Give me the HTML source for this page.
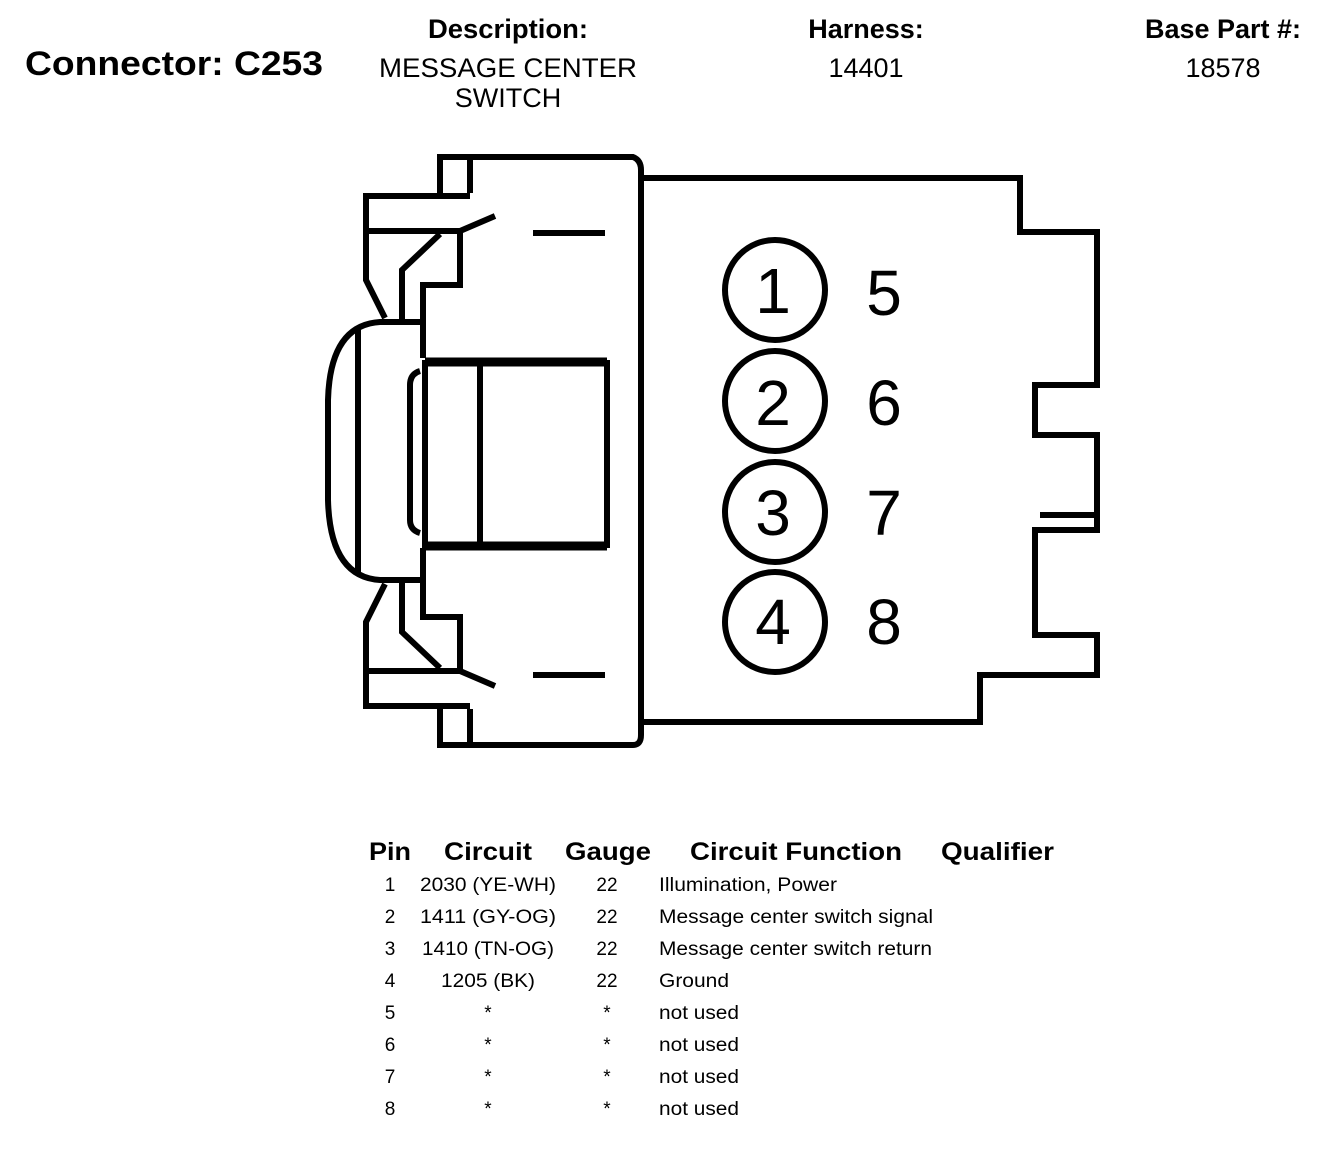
<!DOCTYPE html>
<html><head><meta charset="utf-8"><style>
html,body{margin:0;padding:0;background:#fff;}
svg{display:block;}
text{font-family:"Liberation Sans",sans-serif;fill:#000;}
</style></head><body>
<svg width="1344" height="1154" viewBox="0 0 1344 1154" xmlns="http://www.w3.org/2000/svg">
<rect width="1344" height="1154" fill="#fff"/>
<text x="25" y="75" font-size="34" font-weight="bold" textLength="298" lengthAdjust="spacingAndGlyphs">Connector: C253</text>
<text x="508" y="38" font-size="27" font-weight="bold" text-anchor="middle" textLength="160" lengthAdjust="spacingAndGlyphs">Description:</text>
<text x="508" y="77" font-size="27" text-anchor="middle" textLength="258" lengthAdjust="spacingAndGlyphs">MESSAGE CENTER</text>
<text x="508" y="107" font-size="27" text-anchor="middle">SWITCH</text>
<text x="866" y="38" font-size="27" font-weight="bold" text-anchor="middle">Harness:</text>
<text x="866" y="77" font-size="27" text-anchor="middle">14401</text>
<text x="1223" y="38" font-size="27" font-weight="bold" text-anchor="middle">Base Part #:</text>
<text x="1223" y="77" font-size="27" text-anchor="middle">18578</text>

<g fill="none" stroke="#000" stroke-width="6" stroke-linejoin="miter">
<path d="M437 157 L633 157 Q641 160 641 170 L641 735 Q641 745 633 745 L437 745"/>
<path d="M440 157 L440 193 M470 157 L470 193"/>
<path d="M440 745 L440 709 M470 745 L470 709"/>
<path d="M470 196 L366 196 L366 280 L385 318"/>
<path d="M366 231 L460 231 L495 216"/>
<path d="M460 231 L460 285 L423 285 L423 358"/>
<path d="M440 234 L402 270 L402 322"/>
<path d="M533 233 L605 233"/>
<path d="M470 706 L366 706 L366 622 L385 584"/>
<path d="M366 671 L460 671 L495 686"/>
<path d="M460 671 L460 617 L423 617 L423 548"/>
<path d="M440 668 L402 632 L402 580"/>
<path d="M533 675 L605 675"/>
<path d="M420 322 L380 322 Q330 325 328 400 L328 500 Q330 577 380 580 L420 580"/>
<path d="M358 330 L358 572"/>
<path d="M420 371 Q410 374 410 385 L410 520 Q410 530 420 533"/>
<rect x="425" y="363" width="182" height="182"/>
<path d="M480 363 L480 545"/>
<path d="M425 362 L607 362 M425 546 L607 546" stroke-width="9"/>
<path d="M641 178 L1020 178 L1020 232 L1097 232 L1097 385 L1035 385 L1035 435 L1097 435 L1097 530 L1035 530 L1035 635 L1097 635 L1097 675 L980 675 L980 722 L641 722"/>
<path d="M1040 515 L1097 515"/>
<circle cx="775" cy="290" r="50"/>
<circle cx="775" cy="401" r="50"/>
<circle cx="775" cy="512" r="50"/>
<circle cx="775" cy="622" r="50"/>
</g>
<g font-size="64" text-anchor="middle">
<text x="773" y="313">1</text>
<text x="773" y="425">2</text>
<text x="773" y="535">3</text>
<text x="773" y="644">4</text>
<text x="884" y="315">5</text>
<text x="884" y="425">6</text>
<text x="884" y="535">7</text>
<text x="884" y="644">8</text>
</g>

<g font-size="25" font-weight="bold">
<text x="369" y="860" textLength="42" lengthAdjust="spacingAndGlyphs">Pin</text>
<text x="444" y="860" textLength="88" lengthAdjust="spacingAndGlyphs">Circuit</text>
<text x="565" y="860" textLength="86" lengthAdjust="spacingAndGlyphs">Gauge</text>
<text x="690" y="860" textLength="212" lengthAdjust="spacingAndGlyphs">Circuit Function</text>
<text x="941" y="860" textLength="113" lengthAdjust="spacingAndGlyphs">Qualifier</text>
</g>
<g font-size="19">
<g text-anchor="middle">
<text x="390" y="891">1</text><text x="390" y="923">2</text><text x="390" y="955">3</text><text x="390" y="987">4</text>
<text x="390" y="1019">5</text><text x="390" y="1051">6</text><text x="390" y="1083">7</text><text x="390" y="1115">8</text>
<text x="488" y="891" textLength="136" lengthAdjust="spacingAndGlyphs">2030 (YE-WH)</text><text x="488" y="923" textLength="136" lengthAdjust="spacingAndGlyphs">1411 (GY-OG)</text><text x="488" y="955" textLength="132" lengthAdjust="spacingAndGlyphs">1410 (TN-OG)</text><text x="488" y="987" textLength="94" lengthAdjust="spacingAndGlyphs">1205 (BK)</text>
<text x="488" y="1019">*</text><text x="488" y="1051">*</text><text x="488" y="1083">*</text><text x="488" y="1115">*</text>
<text x="607" y="891">22</text><text x="607" y="923">22</text><text x="607" y="955">22</text><text x="607" y="987">22</text>
<text x="607" y="1019">*</text><text x="607" y="1051">*</text><text x="607" y="1083">*</text><text x="607" y="1115">*</text>
</g>
<text x="659" y="891" textLength="178" lengthAdjust="spacingAndGlyphs">Illumination, Power</text>
<text x="659" y="923" textLength="274" lengthAdjust="spacingAndGlyphs">Message center switch signal</text>
<text x="659" y="955" textLength="273" lengthAdjust="spacingAndGlyphs">Message center switch return</text>
<text x="659" y="987" textLength="70" lengthAdjust="spacingAndGlyphs">Ground</text>
<text x="659" y="1019" textLength="80" lengthAdjust="spacingAndGlyphs">not used</text><text x="659" y="1051" textLength="80" lengthAdjust="spacingAndGlyphs">not used</text><text x="659" y="1083" textLength="80" lengthAdjust="spacingAndGlyphs">not used</text><text x="659" y="1115" textLength="80" lengthAdjust="spacingAndGlyphs">not used</text>
</g>
</svg>
</body></html>
